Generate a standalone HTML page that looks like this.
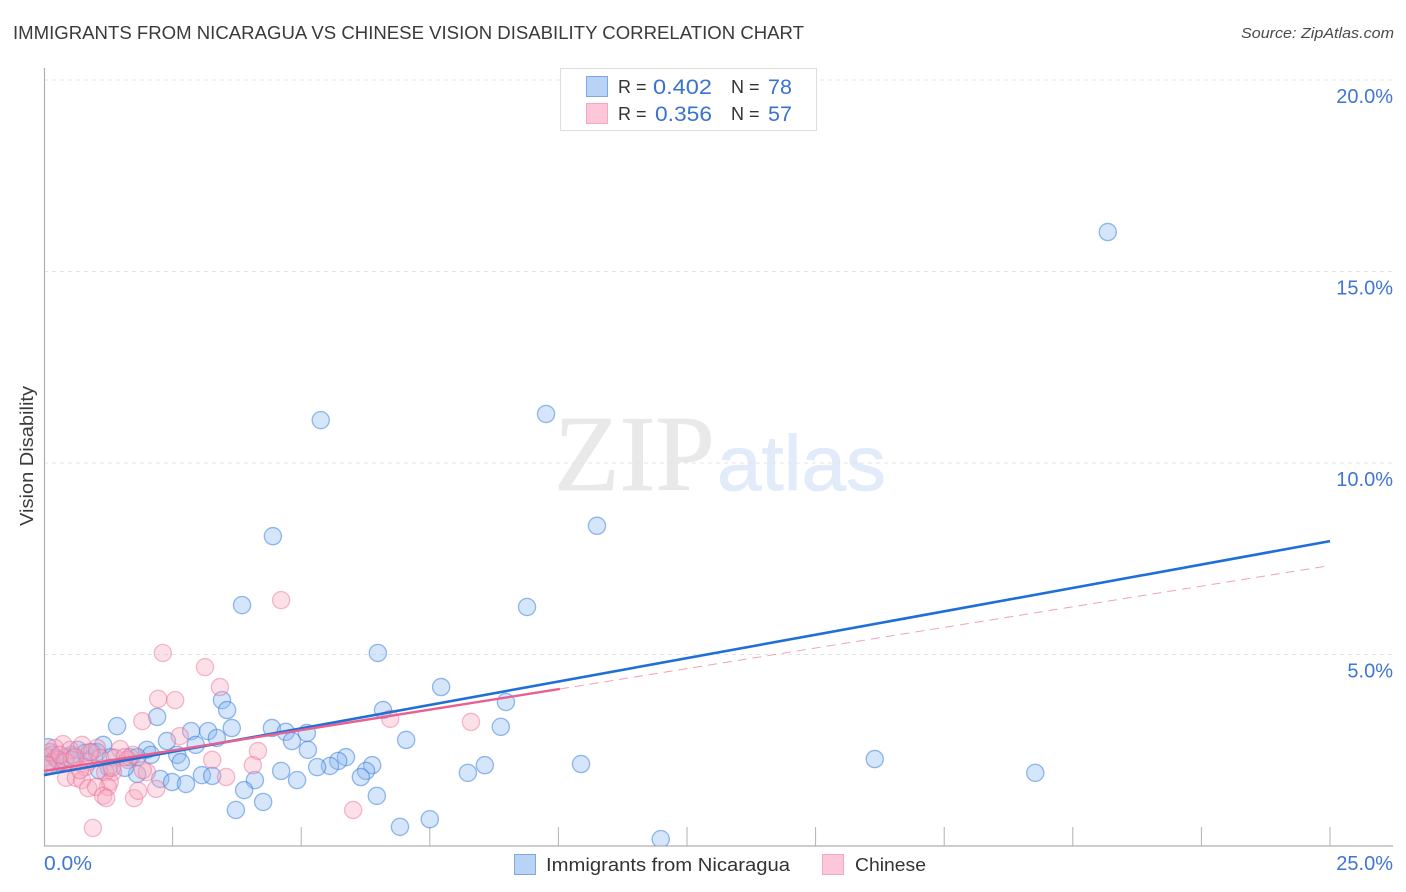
<!DOCTYPE html>
<html lang="en">
<head>
<meta charset="utf-8">
<title>Immigrants from Nicaragua vs Chinese Vision Disability Correlation Chart</title>
<style>
html,body{margin:0;padding:0;background:#fff;width:1406px;height:892px;overflow:hidden}
svg{display:block;font-family:"Liberation Sans",sans-serif}
</style>
</head>
<body>
<svg id="chart" xmlns="http://www.w3.org/2000/svg" width="1406" height="892" viewBox="0 0 1406 892">
  <defs><clipPath id="plot-clip"><rect x="45" y="68" width="1348" height="778"/></clipPath></defs>
  <text x="13" y="39" font-size="18.5" fill="#3a3a3a" textLength="791" lengthAdjust="spacingAndGlyphs">IMMIGRANTS FROM NICARAGUA VS CHINESE VISION DISABILITY CORRELATION CHART</text>
  <text x="1241" y="38" font-size="15" font-style="italic" fill="#4a4a4a" textLength="153" lengthAdjust="spacingAndGlyphs">Source: ZipAtlas.com</text>
  <g id="watermark">
    <text x="554" y="490" font-size="108" fill="#e9e9e9" stroke="#e9e9e9" stroke-width="0.8" textLength="161" lengthAdjust="spacingAndGlyphs" style="font-family:'Liberation Serif',serif">ZIP</text>
    <text x="717" y="490" font-size="78" fill="#e2ebf9" stroke="#e2ebf9" stroke-width="0.8" textLength="169" lengthAdjust="spacingAndGlyphs">atlas</text>
  </g>
  <g id="grid"></g>
  <g id="axes"></g>
  <g id="blue-points" clip-path="url(#plot-clip)"></g>
  <g id="pink-points" clip-path="url(#plot-clip)"></g>
  <g id="trends"></g>
  <text transform="translate(33,456) rotate(-90)" text-anchor="middle" font-size="18" fill="#3a3a3a" textLength="140" lengthAdjust="spacingAndGlyphs">Vision Disability</text>
  <g id="stats-legend">
    <rect x="560.5" y="68.5" width="256" height="62" fill="#fff" stroke="#dddddd"/>
    <rect x="586.5" y="76.5" width="21" height="20" fill="#b9d3f7" stroke="#7ea8e4"/>
    <rect x="586.5" y="103.5" width="21" height="20" fill="#fcc8d9" stroke="#f4a9c0"/>
    <text x="618" y="93" font-size="18" fill="#333">R =</text>
    <text x="653" y="94" font-size="21.5" fill="#3a72d0" textLength="59" lengthAdjust="spacingAndGlyphs">0.402</text>
    <text x="731" y="93" font-size="18" fill="#333">N =</text>
    <text x="768" y="94" font-size="21.5" fill="#3a72d0">78</text>
    <text x="618" y="120" font-size="18" fill="#333">R =</text>
    <text x="655" y="121" font-size="21.5" fill="#3a72d0" textLength="57" lengthAdjust="spacingAndGlyphs">0.356</text>
    <text x="731" y="120" font-size="18" fill="#333">N =</text>
    <text x="768" y="121" font-size="21.5" fill="#3a72d0">57</text>
  </g>
  <g id="bottom-legend">
    <rect x="514.5" y="854.5" width="21" height="20" fill="#b9d3f7" stroke="#7ea8e4"/>
    <text x="546" y="871" font-size="18.5" fill="#333" textLength="244" lengthAdjust="spacingAndGlyphs">Immigrants from Nicaragua</text>
    <rect x="822.5" y="854.5" width="21" height="20" fill="#fcc8d9" stroke="#f4a9c0"/>
    <text x="855" y="871" font-size="18.5" fill="#333" textLength="71" lengthAdjust="spacingAndGlyphs">Chinese</text>
  </g>
</svg>
<script>
const xTicks = [0, 2.5, 5, 7.5, 10, 12.5, 15, 17.5, 20, 22.5, 25];
const yTicks = [5, 10, 15, 20];
const yTickLabels = ["5.0%", "10.0%", "15.0%", "20.0%"];
const xEndLabels = ["0.0%", "25.0%"];

const nicaraguaX = [20.68,9.76,5.38,10.75,4.45,3.85,9.39,6.49,7.72,8.98,6.59,3.46,3.56,2.20,1.42,4.43,3.65,2.86,3.19,4.70,5.11,8.88,7.04,4.82,3.36,2.39,2.95,2.00,1.15,5.13,5.87,2.08,2.59,2.66,5.72,5.56,5.31,6.38,6.26,6.16,4.61,4.92,4.10,3.07,3.27,2.26,2.49,2.76,1.81,1.57,1.26,1.07,3.89,4.26,3.73,6.47,6.92,7.50,11.99,8.24,8.57,10.44,16.15,19.27,0.08,0.16,0.23,0.31,0.43,0.54,0.66,0.80,0.93,1.03,1.30,1.67,1.81,0.12];
const nicaraguaY = [16.03,11.28,11.12,8.36,8.09,6.29,6.24,5.04,4.15,3.76,3.55,3.81,3.55,3.37,3.13,3.08,3.08,3.00,3.00,2.98,2.95,3.11,2.77,2.74,2.82,2.74,2.64,2.51,2.64,2.51,2.32,2.38,2.38,2.19,2.22,2.09,2.06,2.11,1.96,1.80,1.96,1.72,1.72,1.85,1.83,1.75,1.67,1.62,1.88,2.04,2.04,1.98,1.46,1.15,0.94,1.31,0.50,0.70,0.18,1.91,2.11,2.14,2.27,1.91,2.58,2.38,2.30,2.19,2.32,2.38,2.51,2.43,2.45,2.45,2.32,2.32,2.32,2.11];

const chineseX = [4.61,2.31,3.13,3.42,2.22,2.55,1.91,2.64,6.73,8.30,3.27,4.16,4.06,3.54,6.01,0.95,0.37,0.21,0.51,0.74,1.03,1.48,0.06,0.16,0.27,0.41,0.54,0.86,1.09,1.38,1.63,1.73,2.00,1.92,1.34,1.19,0.80,0.43,0.62,0.74,1.28,1.24,0.86,1.01,1.15,1.21,1.75,1.83,2.18,0.70,0.12,0.31,0.60,0.89,0.06,1.57,1.32];
const chineseY = [6.42,5.04,4.67,4.15,3.84,3.81,3.26,2.87,3.32,3.24,2.25,2.48,2.11,1.80,0.94,0.47,2.66,2.56,2.51,2.64,2.56,2.53,2.32,2.19,2.25,2.19,2.25,2.19,2.30,2.30,2.25,2.38,1.93,1.98,1.93,1.93,2.06,1.78,1.78,1.72,1.67,1.54,1.51,1.54,1.31,1.25,1.25,1.44,1.49,1.98,2.45,2.38,2.32,2.45,2.11,2.32,2.04];

const nicaraguaTrendX = [0, 25];
const nicaraguaTrendY = [1.85, 7.96];
const chineseSolidX = [0, 10.03];
const chineseSolidY = [1.96, 4.10];
const chineseDashX = [10.03, 24.94];
const chineseDashY = [4.10, 7.31];

const NS = 'http://www.w3.org/2000/svg';
const sx = v => 44 + v * 51.44;
const sy = v => 846 - v * 38.3;
function mk(parent, tag, attrs, text) {
  const el = document.createElementNS(NS, tag);
  for (const k in attrs) el.setAttribute(k, attrs[k]);
  if (text !== undefined) el.textContent = text;
  parent.appendChild(el);
  return el;
}

const grid = document.getElementById('grid');
const axes = document.getElementById('axes');
const blueG = document.getElementById('blue-points');
const pinkG = document.getElementById('pink-points');
const trends = document.getElementById('trends');

yTicks.forEach((t, i) => {
  const gl = mk(grid, 'line', {x1: 44, x2: 1393, y1: sy(t), y2: sy(t), stroke: '#e4e4e4', 'stroke-width': 1, 'stroke-dasharray': '4 4'});
  
  
  const lb = mk(axes, 'text', {x: 1393, y: sy(t) + 23, 'text-anchor': 'end', 'font-size': 20, fill: '#3f76d3'}, yTickLabels[i]);
  
  
});

const yAxis = mk(axes, 'line', {x1: 44.5, x2: 44.5, y1: 68, y2: 846, stroke: '#b0b0b0', 'stroke-width': 1.2});


const xAxis = mk(axes, 'line', {x1: 44, x2: 1393, y1: 846, y2: 846, stroke: '#b0b0b0', 'stroke-width': 1.2});


xTicks.slice(1).forEach(t => {
  const tk = mk(axes, 'line', {x1: sx(t), x2: sx(t), y1: 827, y2: 846, stroke: '#b0b0b0', 'stroke-width': 1});
  
  
});
const x0 = mk(axes, 'text', {x: 44, y: 870, 'font-size': 20, fill: '#3f76d3', textLength: 48, lengthAdjust: 'spacingAndGlyphs'}, xEndLabels[0]);


const x1 = mk(axes, 'text', {x: 1393, y: 870, 'text-anchor': 'end', 'font-size': 20, fill: '#3f76d3'}, xEndLabels[1]);



nicaraguaX.forEach((v, i) => {
  const c = mk(blueG, 'circle', {cx: sx(v), cy: sy(nicaraguaY[i]), r: 8.6, fill: '#8ab6f0', 'fill-opacity': 0.36, stroke: '#2f78d8', 'stroke-opacity': 0.5, 'stroke-width': 1.3});
  
  
});
chineseX.forEach((v, i) => {
  const c = mk(pinkG, 'circle', {cx: sx(v), cy: sy(chineseY[i]), r: 8.6, fill: '#f8a8c0', 'fill-opacity': 0.36, stroke: '#ea5f8c', 'stroke-opacity': 0.42, 'stroke-width': 1.3});
  
  
});

const t1 = mk(trends, 'line', {x1: sx(nicaraguaTrendX[0]), y1: sy(nicaraguaTrendY[0]), x2: sx(nicaraguaTrendX[1]), y2: sy(nicaraguaTrendY[1]), stroke: '#1f6fd6', 'stroke-width': 2.6});


const t2 = mk(trends, 'line', {x1: sx(chineseSolidX[0]), y1: sy(chineseSolidY[0]), x2: sx(chineseSolidX[1]), y2: sy(chineseSolidY[1]), stroke: '#e8608f', 'stroke-width': 2.4});


const t3 = mk(trends, 'line', {x1: sx(chineseDashX[0]), y1: sy(chineseDashY[0]), x2: sx(chineseDashX[1]), y2: sy(chineseDashY[1]), stroke: '#e8799f', 'stroke-width': 1, 'stroke-opacity': 0.7, 'stroke-dasharray': '9 6'});


</script>
</body>
</html>
